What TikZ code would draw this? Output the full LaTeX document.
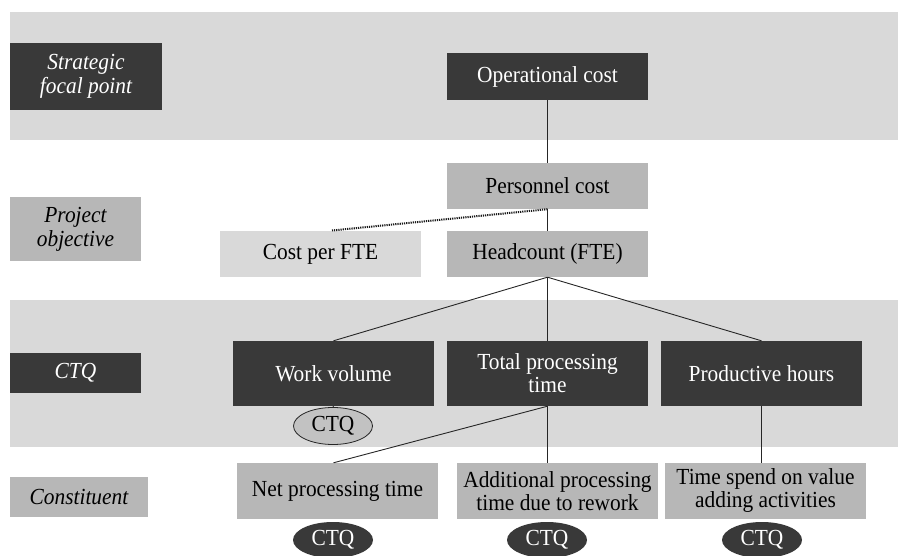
\documentclass[tikz,border=0pt]{standalone}
\usepackage{fontspec}
\setmainfont{Liberation Serif}[FakeStretch=0.93]
\usetikzlibrary{shapes.geometric}
\definecolor{darkbox}{HTML}{393939}
\definecolor{midbox}{HTML}{B7B7B7}
\definecolor{lightband}{HTML}{D9D9D9}
\definecolor{ellgray}{HTML}{C2C2C2}
\tikzset{
  base/.style={rectangle, inner sep=0pt, align=center, font=\fontsize{23}{23}\selectfont},
  darknode/.style={base, fill=darkbox, text=white},
  midnode/.style={base, fill=midbox, text=black},
  lightnode/.style={base, fill=lightband, text=black},
  lbl/.style={font=\fontsize{23}{24}\selectfont\itshape},
  conn/.style={draw=black!85, line width=0.9pt},
  dotconn/.style={draw=black!90, line width=2pt, dash pattern=on 1.2pt off 1pt},
  ctqdark/.style={ellipse, fill=darkbox, text=white, inner sep=0pt, minimum width=80pt, minimum height=36pt, font=\fontsize{23}{23}\selectfont},
  ctqgray/.style={ellipse, fill=ellgray, draw=black!85, line width=0.8pt, text=black, inner sep=0pt, minimum width=79pt, minimum height=37pt, font=\fontsize{23}{23}\selectfont},
}
\begin{document}
\begin{tikzpicture}[x=1pt,y=-1pt]
\useasboundingbox (0,0) rectangle (898,556);
% bands
\fill[lightband] (10,12) rectangle (898,140.5);
\fill[lightband] (10,300) rectangle (898,447);
% left labels
\node[darknode, lbl, minimum width=152pt, minimum height=67pt] (strat) at (86,76.5) {Strategic\\focal point};
\node[midnode, lbl, minimum width=131pt, minimum height=64pt] (proj) at (75.5,229) {Project\\objective};
\node[darknode, lbl, minimum width=131pt, minimum height=40pt] (ctql) at (75.5,373) {CTQ};
\node[midnode, lbl, minimum width=138pt, minimum height=40pt] (const) at (79,497) {Constituent};
% main nodes
\node[darknode, minimum width=201pt, minimum height=47pt] (op) at (547.5,76.5) {Operational cost};
\node[midnode, minimum width=201pt, minimum height=46pt] (pers) at (547.5,186) {Personnel cost};
\node[midnode, minimum width=201pt, minimum height=46pt] (head) at (547.5,254) {Headcount (FTE)};
\node[lightnode, minimum width=201pt, minimum height=46pt] (cpf) at (320.5,254) {Cost per FTE};
\node[darknode, minimum width=201pt, minimum height=65pt] (wv) at (333.5,373.5) {Work volume};
\node[darknode, minimum width=201pt, minimum height=65pt] (tpt) at (547.5,373.5) {Total processing\\time};
\node[darknode, minimum width=201pt, minimum height=65pt] (ph) at (761.5,373.5) {Productive hours};
\node[midnode, minimum width=201pt, minimum height=56pt] (npt) at (337.5,491) {Net processing time};
\node[midnode, minimum width=201pt, minimum height=56pt] (apt) at (557.5,491) {Additional processing\\time due to rework};
\node[midnode, minimum width=201pt, minimum height=56pt] (ts) at (765.5,491) {Time spend on value\\adding activities};
% CTQ ellipses
\node[ctqgray] (ctq0) at (333,426) {CTQ};
\node[ctqdark] (ctq1) at (333,540) {CTQ};
\node[ctqdark] (ctq2) at (547,540) {CTQ};
\node[ctqdark] (ctq3) at (762,540) {CTQ};
% connectors
\coordinate (dotend) at (332,230.5);
\draw[conn] (op.south) -- (pers.north);
\draw[conn] (pers.south) -- (head.north);
\draw[dotconn] (pers.south) -- (dotend);
\draw[conn] (head.south) -- (wv.north);
\draw[conn] (head.south) -- (tpt.north);
\draw[conn] (head.south) -- (ph.north);
\draw[conn] (tpt.south) -- (wv.south |- npt.north);
\draw[conn] (tpt.south) -- (tpt.south |- apt.north);
\draw[conn] (ph.south) -- (ph.south |- ts.north);
\draw[conn] (wv.south) -- (ctq0.north);
\end{tikzpicture}
\end{document}
